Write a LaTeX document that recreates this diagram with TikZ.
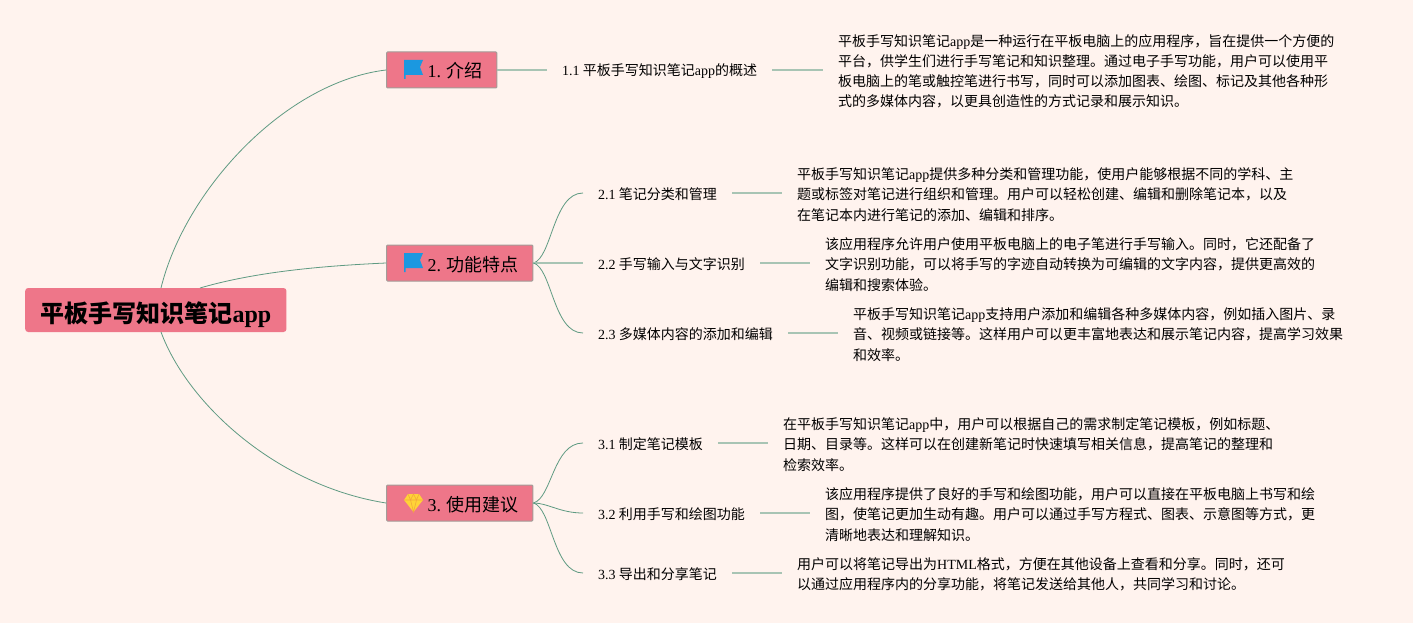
\documentclass[tikz,border=0pt]{standalone}
\usepackage{fontspec}
\usepackage{xcolor}
\setmainfont{Noto Sans CJK SC}
\newfontfamily\latinfont{Liberation Serif}
\newcommand{\en}[1]{{\latinfont #1}}
\definecolor{pagebg}{HTML}{FFF3EE}
\definecolor{boxpink}{HTML}{EE7689}
\definecolor{boxedge}{HTML}{A39C98}
\definecolor{curvegreen}{HTML}{5F9A82}
\definecolor{linegreen}{HTML}{A8C4B4}
\definecolor{flagblue}{HTML}{1B98E0}
\definecolor{gemyellow}{HTML}{FFD338}
\definecolor{gemorange}{HTML}{F2A93B}
\usetikzlibrary{positioning,calc}
\tikzset{
    flagicon/.pic={
        \fill[flagblue] (-9.5,-10) -- (9.5,-10) -- (6.5,-3) -- (9.5,5) -- (-8,5) -- (-8,9) -- (-9.5,9) -- cycle;
    },
    gemicon/.pic={
        \fill[gemyellow] (-5.5,-9) -- (5.5,-9) -- (9.5,-3) -- (0,9) -- (-9.5,-3) -- cycle;
        \draw[gemorange, line width=0.6pt] (-9.5,-3) -- (9.5,-3) (-3,-3) -- (0,9) -- (3,-3) (-5.5,-9) -- (-3,-3) -- (0,-9) -- (3,-3) -- (5.5,-9);
    }
}
\begin{document}
\begin{tikzpicture}[
    x=1pt, y=-1pt,
    rootbox/.style={rectangle, fill=boxpink, rounded corners=3pt, minimum height=44pt, inner xsep=15.3pt, inner ysep=0pt, text height=26pt, text depth=2pt, anchor=west, font=\fontsize{24}{28}\selectfont\bfseries},
    topicbox/.style={rectangle, draw=boxedge, line width=1pt, fill=boxpink, rounded corners=1pt, minimum height=36pt, inner xsep=14.5pt, inner ysep=0pt, text height=17pt, text depth=1pt, anchor=west, font=\fontsize{18}{22}\selectfont},
    subnode/.style={inner xsep=15pt, inner ysep=2pt, text height=13pt, text depth=1pt, anchor=west, font=\fontsize{14}{20}\selectfont},
    textnode/.style={inner xsep=15pt, inner ysep=0pt, anchor=west, align=left, font=\fontsize{14}{20.2}\selectfont},
    curve/.style={curvegreen, line width=0.8pt},
    link/.style={linegreen, line width=1.4pt}
]
\useasboundingbox (0,0) rectangle (1413,623);
\fill[pagebg] (0,0) rectangle (1413,623);

% Root and topics
\node[rootbox] (root) at (25,310) {平板手写知识笔记\en{app}};
\node[topicbox] (intro) at (386,70) {\hspace{26.5pt}\en{1.} 介绍};
\node[topicbox] (feature) at (386,263) {\hspace{26.5pt}\en{2.} 功能特点};
\node[topicbox] (advice) at (386,503) {\hspace{26.5pt}\en{3.} 使用建议};
\pic at (413.5,70) {flagicon};
\pic at (413.5,263) {flagicon};
\pic at (413.5,503) {gemicon};

% Curve ends on the root
\coordinate (rootup) at (161,288);
\coordinate (rootmid) at (200,288);
\coordinate (rootdown) at (161,332);

% Root to topics
\draw[curve] (rootup) .. controls (185,190) and (285,82) .. (intro.west);
\draw[curve] (rootmid) .. controls (255,272) and (320,266) .. (feature.west);
\draw[curve] (rootdown) .. controls (188,405) and (278,486) .. (advice.west);

% Section 1
\node[subnode] (s11) at (547,70) {\en{1.1} 平板手写知识笔记\en{app}的概述};
\node[textnode] (t11) at (823,71.5) {平板手写知识笔记\en{app}是一种运行在平板电脑上的应用程序，旨在提供一个方便的\\平台，供学生们进行手写笔记和知识整理。通过电子手写功能，用户可以使用平\\板电脑上的笔或触控笔进行书写，同时可以添加图表、绘图、标记及其他各种形\\式的多媒体内容，以更具创造性的方式记录和展示知识。};
\draw[link] (intro.east) -- (s11.west);
\draw[link] (s11.east) -- (s11.east -| t11.west);

% Section 2
\node[subnode] (s21) at (583,193) {\en{2.1} 笔记分类和管理};
\node[subnode] (s22) at (583,263) {\en{2.2} 手写输入与文字识别};
\node[subnode] (s23) at (583,333) {\en{2.3} 多媒体内容的添加和编辑};
\node[textnode] (t21) at (782,194.5) {平板手写知识笔记\en{app}提供多种分类和管理功能，使用户能够根据不同的学科、主\\题或标签对笔记进行组织和管理。用户可以轻松创建、编辑和删除笔记本，以及\\在笔记本内进行笔记的添加、编辑和排序。};
\node[textnode] (t22) at (810,264.5) {该应用程序允许用户使用平板电脑上的电子笔进行手写输入。同时，它还配备了\\文字识别功能，可以将手写的字迹自动转换为可编辑的文字内容，提供更高效的\\编辑和搜索体验。};
\node[textnode] (t23) at (838,334.5) {平板手写知识笔记\en{app}支持用户添加和编辑各种多媒体内容，例如插入图片、录\\音、视频或链接等。这样用户可以更丰富地表达和展示笔记内容，提高学习效果\\和效率。};
\draw[curve] (feature.east) .. controls (552,258) and (553,193) .. (s21.west);
\draw[link] (feature.east) -- (s22.west);
\draw[curve] (feature.east) .. controls (552,268) and (553,333) .. (s23.west);
\draw[link] (s21.east) -- (s21.east -| t21.west);
\draw[link] (s22.east) -- (s22.east -| t22.west);
\draw[link] (s23.east) -- (s23.east -| t23.west);

% Section 3
\node[subnode] (s31) at (583,443) {\en{3.1} 制定笔记模板};
\node[subnode] (s32) at (583,513) {\en{3.2} 利用手写和绘图功能};
\node[subnode] (s33) at (583,573) {\en{3.3} 导出和分享笔记};
\node[textnode] (t31) at (768,444.5) {在平板手写知识笔记\en{app}中，用户可以根据自己的需求制定笔记模板，例如标题、\\日期、目录等。这样可以在创建新笔记时快速填写相关信息，提高笔记的整理和\\检索效率。};
\node[textnode] (t32) at (810,514.5) {该应用程序提供了良好的手写和绘图功能，用户可以直接在平板电脑上书写和绘\\图，使笔记更加生动有趣。用户可以通过手写方程式、图表、示意图等方式，更\\清晰地表达和理解知识。};
\node[textnode] (t33) at (782,574.5) {用户可以将笔记导出为\en{HTML}格式，方便在其他设备上查看和分享。同时，还可\\以通过应用程序内的分享功能，将笔记发送给其他人，共同学习和讨论。};
\draw[curve] (advice.east) .. controls (552,498) and (553,443) .. (s31.west);
\draw[curve] (advice.east) .. controls (548,503) and (560,513) .. (s32.west);
\draw[curve] (advice.east) .. controls (552,508) and (553,573) .. (s33.west);
\draw[link] (s31.east) -- (s31.east -| t31.west);
\draw[link] (s32.east) -- (s32.east -| t32.west);
\draw[link] (s33.east) -- (s33.east -| t33.west);

\end{tikzpicture}
\end{document}
